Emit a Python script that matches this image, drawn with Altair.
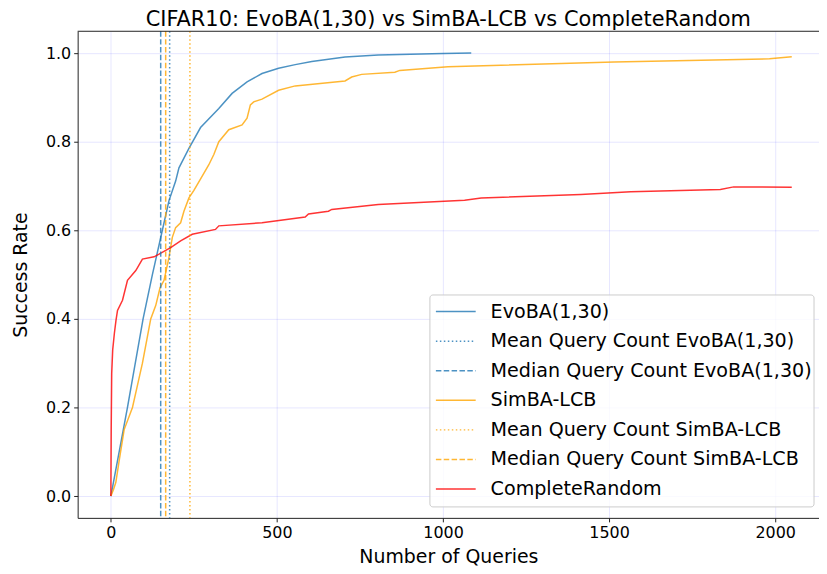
import altair as alt
import pandas as pd

# ---- data ----
evoba_x = [0, 50, 97, 125, 155, 175, 195, 205, 235, 270, 325, 365, 410, 455, 505, 555, 605, 705, 805, 1000, 1085]
evoba_y = [0.0, 0.2, 0.4, 0.5, 0.6, 0.667, 0.711, 0.741, 0.785, 0.832, 0.875, 0.909, 0.935, 0.954, 0.966, 0.974, 0.981, 0.991, 0.996, 0.999, 1.0]

simba_x = [0, 8, 15, 25, 40, 65, 80, 95, 110, 120, 135, 148, 160, 175, 185, 195, 210, 220, 235, 250, 275, 295, 310,
           325, 355, 395, 410, 420, 430, 455, 505, 555, 705, 725, 755, 855, 870, 1015, 1515, 1983, 2050]
simba_y = [0.0, 0.015, 0.031, 0.08, 0.15, 0.2, 0.25, 0.3, 0.36, 0.4, 0.43, 0.47, 0.487, 0.539, 0.584, 0.606, 0.617,
           0.643, 0.673, 0.69, 0.722, 0.748, 0.771, 0.8, 0.827, 0.838, 0.853, 0.883, 0.89, 0.896, 0.916, 0.926, 0.937,
           0.946, 0.952, 0.957, 0.961, 0.969, 0.98, 0.987, 0.992]

random_x = [0, 1, 2.5, 5.5, 10.5, 15.5, 20, 35, 50, 75, 95, 130, 145, 180, 210, 245, 315, 325, 455, 585, 595, 655,
            665, 805, 1065, 1115, 1415, 1565, 1835, 1875, 2050]
random_y = [0.0, 0.15, 0.277, 0.33, 0.367, 0.397, 0.419, 0.442, 0.487, 0.509, 0.535, 0.54, 0.546, 0.561, 0.576, 0.591,
            0.602, 0.61, 0.617, 0.63, 0.637, 0.643, 0.647, 0.658, 0.668, 0.673, 0.681, 0.687, 0.692, 0.698, 0.697]

evoba_mean = 177
evoba_median = 150
simba_mean = 238
simba_median = 165

series_names = [
    "EvoBA(1,30)",
    "Mean Query Count EvoBA(1,30)",
    "Median Query Count EvoBA(1,30)",
    "SimBA-LCB",
    "Mean Query Count SimBA-LCB",
    "Median Query Count SimBA-LCB",
    "CompleteRandom",
]
series_colors = ["#1f77b4", "#1f77b4", "#1f77b4", "#ffa500", "#ffa500", "#ffa500", "#ff0000"]
series_dashes = [[1, 0], [1.5, 2.5], [5.5, 2.4], [1, 0], [1.5, 2.5], [5.5, 2.4], [1, 0]]

# ---- tables ----
curves = pd.concat([
    pd.DataFrame({"series": series_names[0], "x": evoba_x, "y": evoba_y}),
    pd.DataFrame({"series": series_names[3], "x": simba_x, "y": simba_y}),
    pd.DataFrame({"series": series_names[6], "x": random_x, "y": random_y}),
], ignore_index=True)
curves["idx"] = range(len(curves))

vlines = pd.DataFrame({
    "series": [series_names[1], series_names[2], series_names[4], series_names[5]],
    "x": [evoba_mean, evoba_median, simba_mean, simba_median],
})

legend_df = pd.DataFrame({"series": series_names, "row": list(range(len(series_names)))})

W, H = 745, 489
FONT = "DejaVu Sans"

color_scale = alt.Scale(domain=series_names, range=series_colors)
dash_scale = alt.Scale(domain=series_names, range=series_dashes)
x_scale = alt.Scale(domain=[-100, 2132], nice=False, zero=False)
y_scale = alt.Scale(domain=[-0.0493, 1.0493], nice=False, zero=False)

lines = alt.Chart(curves).mark_line(strokeWidth=1.5, opacity=0.8).encode(
    x=alt.X("x:Q", scale=x_scale,
            axis=alt.Axis(values=[0, 500, 1000, 1500, 2000], format="d", title="Number of Queries")),
    y=alt.Y("y:Q", scale=y_scale,
            axis=alt.Axis(values=[0, 0.2, 0.4, 0.6, 0.8, 1.0], format=".1f", title="Success Rate")),
    color=alt.Color("series:N", scale=color_scale, legend=None),
    detail="series:N",
    order="idx:Q",
)

rules = alt.Chart(vlines).mark_rule(strokeWidth=1.5, opacity=0.8).encode(
    x=alt.X("x:Q", scale=x_scale),
    color=alt.Color("series:N", scale=color_scale, legend=None),
    strokeDash=alt.StrokeDash("series:N", scale=dash_scale, legend=None),
)

legend_box = alt.Chart(pd.DataFrame({"k": [0]})).mark_rect(
    fill="white", fillOpacity=0.8, stroke="#cccccc", strokeWidth=1, cornerRadius=3
).encode(x=alt.value(354), x2=alt.value(740), y=alt.value(265), y2=alt.value(478))

leg_y = alt.Y("row:Q", scale=alt.Scale(domain=[0, 6], range=[281.7, 460]), axis=None)

legend_sym = alt.Chart(legend_df).mark_rule(strokeWidth=1.5, opacity=0.8).encode(
    x=alt.value(360), x2=alt.value(400),
    y=leg_y,
    color=alt.Color("series:N", scale=color_scale, legend=None),
    strokeDash=alt.StrokeDash("series:N", scale=dash_scale, legend=None),
)

legend_txt = alt.Chart(legend_df).mark_text(
    align="left", baseline="middle", fontSize=19.2, font=FONT, color="#000000"
).encode(x=alt.value(415), y=leg_y, text="series:N")

top_spine = alt.Chart(pd.DataFrame({"k": [0]})).mark_rule(color="#222222", strokeWidth=1).encode(
    x=alt.value(0), x2=alt.value(W), y=alt.value(0)
)

chart = alt.layer(lines, rules, legend_box, legend_sym, legend_txt, top_spine).resolve_scale(
    y="independent"
).properties(
    width=W, height=H,
    title=alt.TitleParams("CIFAR10: EvoBA(1,30) vs SimBA-LCB vs CompleteRandom",
                          fontSize=21, font=FONT, fontWeight="normal", color="#000000",
                          anchor="middle", offset=1),
    autosize=alt.AutoSizeParams(type="none"),
    padding={"left": 70, "top": 22, "right": 0, "bottom": 52},
).configure_view(stroke=None).configure_axis(
    labelFont=FONT, titleFont=FONT, labelFontSize=16, titleFontSize=19,
    labelColor="#000000", titleColor="#000000", titleFontWeight="normal",
    domainColor="#222222", tickColor="#222222", tickSize=4, labelPadding=3,
    gridColor="#0000ff", gridOpacity=0.1, gridWidth=1,
).configure_axisX(titlePadding=7).configure_axisY(titlePadding=15)

chart.save("out.html", embed_options={"renderer": "svg", "actions": False})
